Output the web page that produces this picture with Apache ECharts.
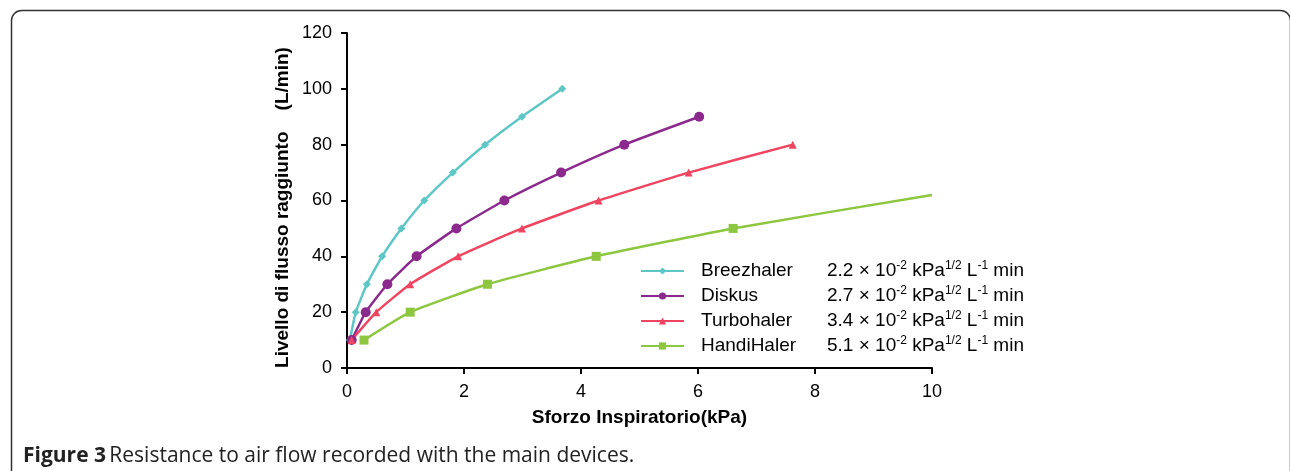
<!DOCTYPE html>
<html>
<head>
<meta charset="utf-8">
<script src="https://cdn.jsdelivr.net/npm/echarts@6/dist/echarts.min.js"></script>
<style>
html,body{margin:0;padding:0;background:#fff;}
#c{width:1290px;height:471px;}
</style>
</head>
<body>
<div id="c"></div>
<script>
// Data (x: kPa, y: L/min)
const seriesNames = ['Breezhaler', 'Diskus', 'Turbohaler', 'HandiHaler'];
const resistances = ['2.2', '2.7', '3.4', '5.1'];
const breezhalerX = [0.05, 0.15, 0.34, 0.60, 0.93, 1.32, 1.81, 2.36, 2.99, 3.68];
const breezhalerY = [10, 20, 30, 40, 50, 60, 70, 80, 90, 100];
const diskusX = [0.08, 0.32, 0.69, 1.19, 1.87, 2.69, 3.66, 4.74, 6.02];
const diskusY = [10, 20, 30, 40, 50, 60, 70, 80, 90];
const turbohalerX = [0.08, 0.50, 1.08, 1.90, 2.99, 4.30, 5.84, 7.62];
const turbohalerY = [10, 20, 30, 40, 50, 60, 70, 80];
const handihalerX = [0.29, 1.08, 2.40, 4.26, 6.60, 10.0];
const handihalerY = [10, 20, 30, 40, 50, 62];
const xTicks = [0, 2, 4, 6, 8, 10];
const yTicks = [0, 20, 40, 60, 80, 100, 120];

const colors = ['#5ec7c6', '#8b2a8c', '#ef4560', '#8dc63f'];
const symbols = ['diamond', 'circle', 'triangle', 'rect'];
const symbolSizes = [8, 10, 8, 9];
const xs = [breezhalerX, diskusX, turbohalerX, handihalerX];
const ys = [breezhalerY, diskusY, turbohalerY, handihalerY];

const chart = echarts.init(document.getElementById('c'));
const series = seriesNames.map((name, i) => ({
  name: name,
  type: 'line',
  data: xs[i].map((x, j) => [x, ys[i][j]]),
  symbol: symbols[i],
  symbolSize: (i === 3)
    ? function (v, p) { return p.dataIndex === xs[3].length - 1 ? 0 : symbolSizes[3]; }
    : symbolSizes[i],
  showAllSymbol: true,
  smooth: 0.15,
  lineStyle: { color: colors[i], width: 2.5 },
  itemStyle: { color: colors[i] },
  emphasis: { disabled: true },
  animation: false
}));

chart.setOption({
  animation: false,
  textStyle: { fontFamily: 'Liberation Sans' },
  grid: { left: 347, right: 358, top: 33, bottom: 103, containLabel: false },
  xAxis: {
    type: 'value', min: 0, max: 10, interval: 2,
    name: 'Sforzo Inspiratorio(kPa)', nameLocation: 'middle', nameGap: 40,
    nameTextStyle: { fontSize: 19, fontWeight: 'bold', color: '#000', fontFamily: 'Liberation Sans' },
    axisLine: { lineStyle: { color: '#000', width: 2 } },
    axisTick: { show: true, length: 6, lineStyle: { color: '#000', width: 2 } },
    axisLabel: { fontSize: 18, color: '#000', margin: 15 },
    splitLine: { show: false }
  },
  yAxis: {
    type: 'value', min: 0, max: 120, interval: 20,
    name: 'Livello di flusso raggiunto    (L/min)', nameLocation: 'middle', nameGap: 55,
    nameTextStyle: { fontSize: 19, fontWeight: 'bold', color: '#000', fontFamily: 'Liberation Sans', padding: [0, 14, 0, 0] },
    axisLine: { show: true, lineStyle: { color: '#000', width: 2 } },
    axisTick: { show: true, length: 6, lineStyle: { color: '#000', width: 2 } },
    axisLabel: { fontSize: 18, color: '#000', margin: 15 },
    splitLine: { show: false }
  },
  legend: {
    orient: 'vertical',
    left: 635, top: 255,
    itemWidth: 43, itemHeight: 9,
    itemGap: 4.5,
    data: seriesNames,
    formatter: function (name) {
      const i = seriesNames.indexOf(name);
      return '{n|' + name + '}{v|' + resistances[i] + ' × 10}{s|-2}{v| kPa}{s|1/2}{v| L}{s|-1}{v| min}';
    },
    textStyle: {
      color: '#000',
      rich: {
        n: { fontSize: 19, width: 126, padding: [0, 0, 0, 12], lineHeight: 22, fontFamily: 'Liberation Sans', color: '#000' },
        v: { fontSize: 19, lineHeight: 22, fontFamily: 'Liberation Sans', color: '#000' },
        s: { fontSize: 12, lineHeight: 22, verticalAlign: 'top', fontFamily: 'Liberation Sans', color: '#000' }
      }
    }
  },
  graphic: [
    {
      type: 'rect', left: 9, top: 8,
      shape: { width: 1279, height: 480, r: 10 },
      style: { fill: 'none', stroke: '#333', lineWidth: 1.5 },
      silent: true
    },
    {
      type: 'text', left: 23, top: 446,
      style: {
        text: '{b|Figure 3} {r|Resistance to air flow recorded with the main devices.}',
        rich: {
          b: { fontSize: 21, fontWeight: 'bold', fontFamily: 'Open Sans', fill: '#222' },
          r: { fontSize: 21, fontFamily: 'Open Sans', fill: '#222' }
        }
      }
    }
  ],
  series: series
});
</script>
</body>
</html>
